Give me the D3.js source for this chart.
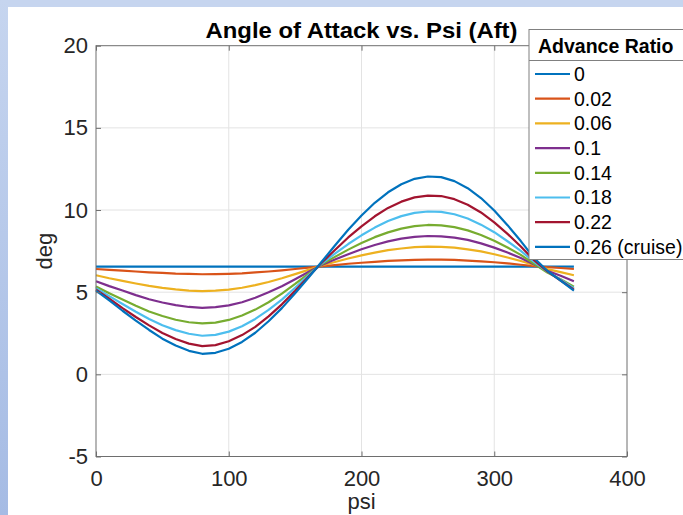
<!DOCTYPE html>
<html>
<head>
<meta charset="utf-8">
<script src="https://cdn.jsdelivr.net/npm/d3@7.9.0/dist/d3.min.js"></script>
<style>
  body { margin: 0; background: #fff; }
  svg { display: block; font-family: "Liberation Sans", Arial, sans-serif; }
</style>
</head>
<body>
<svg width="683" height="515"></svg>
<script>
// rotor azimuth (deg) and angle of attack (deg) for each advance ratio
const psi = [0, 10, 20, 30, 40, 50, 60, 70, 80, 90, 100, 110, 120, 130, 140, 150, 160, 170, 180,
  190, 200, 210, 220, 230, 240, 250, 260, 270, 280, 290, 300, 310, 320, 330, 340, 350, 360];

const mu000 = [6.55, 6.55, 6.55, 6.55, 6.55, 6.55, 6.55, 6.55, 6.55, 6.55, 6.55, 6.55, 6.55, 6.55, 6.55, 6.55, 6.55, 6.55, 6.55,
  6.55, 6.55, 6.55, 6.55, 6.55, 6.55, 6.55, 6.55, 6.55, 6.55, 6.55, 6.55, 6.55, 6.55, 6.55, 6.55, 6.55, 6.55];
const mu002 = [6.41, 6.36, 6.31, 6.26, 6.21, 6.17, 6.13, 6.11, 6.09, 6.10, 6.12, 6.15, 6.20, 6.26, 6.33, 6.41, 6.49, 6.57, 6.65,
  6.73, 6.79, 6.85, 6.90, 6.94, 6.97, 6.98, 6.98, 6.96, 6.92, 6.88, 6.82, 6.75, 6.67, 6.59, 6.52, 6.47, 6.41];
const mu006 = [6.03, 5.85, 5.69, 5.53, 5.38, 5.26, 5.17, 5.10, 5.07, 5.09, 5.16, 5.27, 5.43, 5.62, 5.85, 6.10, 6.36, 6.62, 6.84,
  7.05, 7.24, 7.41, 7.56, 7.66, 7.74, 7.77, 7.76, 7.71, 7.61, 7.48, 7.31, 7.11, 6.90, 6.65, 6.40, 6.22, 6.03];
const mu010 = [5.67, 5.37, 5.10, 4.82, 4.57, 4.37, 4.21, 4.10, 4.05, 4.09, 4.20, 4.39, 4.66, 4.99, 5.36, 5.79, 6.23, 6.65, 6.99,
  7.31, 7.61, 7.87, 8.09, 8.26, 8.37, 8.42, 8.40, 8.32, 8.18, 7.97, 7.71, 7.41, 7.08, 6.69, 6.30, 6.00, 5.67];
const mu014 = [5.34, 4.93, 4.55, 4.17, 3.82, 3.55, 3.32, 3.17, 3.10, 3.15, 3.31, 3.58, 3.94, 4.39, 4.91, 5.50, 6.12, 6.69, 7.15,
  7.59, 7.99, 8.35, 8.64, 8.87, 9.02, 9.09, 9.07, 8.96, 8.76, 8.48, 8.13, 7.72, 7.27, 6.72, 6.20, 5.79, 5.34];
const mu018 = [5.25, 4.76, 4.28, 3.81, 3.37, 2.99, 2.69, 2.47, 2.35, 2.40, 2.60, 2.93, 3.37, 3.92, 4.55, 5.27, 6.02, 6.74, 7.34,
  7.93, 8.46, 8.93, 9.33, 9.63, 9.83, 9.91, 9.89, 9.74, 9.48, 9.11, 8.65, 8.10, 7.51, 6.85, 6.25, 5.76, 5.25];
const mu022 = [5.15, 4.60, 4.03, 3.49, 2.98, 2.52, 2.15, 1.87, 1.72, 1.78, 2.01, 2.39, 2.89, 3.53, 4.26, 5.08, 5.94, 6.79, 7.57,
  8.33, 9.01, 9.62, 10.13, 10.51, 10.77, 10.88, 10.85, 10.66, 10.32, 9.85, 9.25, 8.55, 7.78, 6.95, 6.27, 5.71, 5.15];
const mu026 = [5.10, 4.50, 3.87, 3.27, 2.70, 2.17, 1.75, 1.43, 1.25, 1.31, 1.56, 1.97, 2.53, 3.23, 4.03, 4.93, 5.88, 6.85, 7.84,
  8.80, 9.67, 10.44, 11.08, 11.57, 11.90, 12.04, 12.00, 11.76, 11.33, 10.73, 9.97, 9.08, 8.11, 7.08, 6.30, 5.70, 5.10];

const seriesLabels = ['0', '0.02', '0.06', '0.1', '0.14', '0.18', '0.22', '0.26 (cruise)'];
const seriesValues = [mu000, mu002, mu006, mu010, mu014, mu018, mu022, mu026];
const seriesColors = ['#0072BD', '#D95319', '#EDB120', '#7E2F8E', '#77AC30', '#4DBEEE', '#A2142F', '#0072BD'];

const xTicks = [0, 100, 200, 300, 400];
const yTicks = [-5, 0, 5, 10, 15, 20];

const svg = d3.select('svg');
const font = '"Liberation Sans", Arial, sans-serif';

// slide-ish frame around the figure
const defs = svg.append('defs');
const grad = defs.append('linearGradient')
  .attr('id', 'side')
  .attr('x1', 0).attr('y1', 0).attr('x2', 0).attr('y2', 1);
grad.append('stop').attr('offset', '0%').attr('stop-color', '#c6d5ef');
grad.append('stop').attr('offset', '100%').attr('stop-color', '#a5bbe4');

svg.append('rect').attr('x', 0).attr('y', 0).attr('width', 683).attr('height', 7).attr('fill', '#c6d5ef');
svg.append('rect').attr('x', 0).attr('y', 0).attr('width', 8).attr('height', 515).attr('fill', 'url(#side)');

const plotL = 96, plotR = 627, plotT = 45.7, plotB = 456.5;

const x = d3.scaleLinear().domain([0, 400]).range([plotL, plotR]);
const y = d3.scaleLinear().domain([-5, 20]).range([plotB, plotT]);

// grid
const grid = svg.append('g').attr('stroke', '#e3e3e3').attr('stroke-width', 1);
xTicks.slice(1, -1).forEach(t => {
  grid.append('line').attr('x1', x(t)).attr('x2', x(t)).attr('y1', plotT).attr('y2', plotB);
});
yTicks.slice(1, -1).forEach(t => {
  grid.append('line').attr('x1', plotL).attr('x2', plotR).attr('y1', y(t)).attr('y2', y(t));
});

// curves
const line = d3.line()
  .x((d, i) => x(psi[i]))
  .y(d => y(d));

seriesValues.forEach((vals, i) => {
  svg.append('path')
    .attr('d', line(vals))
    .attr('fill', 'none')
    .attr('stroke', seriesColors[i])
    .attr('stroke-width', 2.2)
    .attr('stroke-linejoin', 'round');
});

// axes
const fmt = d => String(d);

function styleAxis(g) {
  g.select('.domain').remove();
  g.selectAll('.tick line').attr('stroke', '#6e6e6e');
  g.selectAll('.tick text')
    .attr('fill', '#262626')
    .attr('font-size', 22)
    .attr('font-family', font);
}

svg.append('g')
  .attr('transform', `translate(0,${plotB})`)
  .call(d3.axisBottom(x).tickValues(xTicks).tickFormat(fmt).tickSize(-5).tickPadding(14))
  .call(styleAxis);

svg.append('g')
  .attr('transform', `translate(${plotL},0)`)
  .call(d3.axisLeft(y).tickValues(yTicks).tickFormat(fmt).tickSize(-5).tickPadding(8))
  .call(styleAxis);

svg.append('g')
  .attr('transform', `translate(0,${plotT})`)
  .call(d3.axisTop(x).tickValues(xTicks).tickSize(-5).tickFormat(''))
  .call(styleAxis);

svg.append('g')
  .attr('transform', `translate(${plotR},0)`)
  .call(d3.axisRight(y).tickValues(yTicks).tickSize(-5).tickFormat(''))
  .call(styleAxis);

svg.append('rect')
  .attr('x', plotL).attr('y', plotT)
  .attr('width', plotR - plotL).attr('height', plotB - plotT)
  .attr('fill', 'none')
  .attr('stroke', '#6e6e6e')
  .attr('stroke-width', 1);

// titles
svg.append('text')
  .attr('x', (plotL + plotR) / 2).attr('y', 38)
  .attr('text-anchor', 'middle')
  .attr('font-size', 22).attr('font-weight', 'bold')
  .attr('textLength', 312).attr('lengthAdjust', 'spacingAndGlyphs')
  .attr('fill', '#000')
  .text('Angle of Attack vs. Psi (Aft)');

svg.append('text')
  .attr('transform', `translate(52,${(plotT + plotB) / 2}) rotate(-90)`)
  .attr('text-anchor', 'middle')
  .attr('font-size', 22)
  .attr('fill', '#262626')
  .text('deg');

svg.append('text')
  .attr('x', (plotL + plotR) / 2).attr('y', 509)
  .attr('text-anchor', 'middle')
  .attr('font-size', 22)
  .attr('fill', '#262626')
  .text('psi');

// legend
const lg = svg.append('g').attr('transform', 'translate(529,29.5)');
lg.append('rect')
  .attr('x', 0).attr('y', 0)
  .attr('width', 170).attr('height', 230)
  .attr('fill', '#fff')
  .attr('stroke', '#808080');
lg.append('text')
  .attr('x', 9).attr('y', 23)
  .attr('font-size', 19.5).attr('font-weight', 'bold')
  .attr('fill', '#000')
  .text('Advance Ratio');
lg.append('line')
  .attr('x1', 0).attr('x2', 170).attr('y1', 31).attr('y2', 31)
  .attr('stroke', '#808080');

seriesLabels.forEach((label, i) => {
  const cy = 44.5 + i * 24.7;
  lg.append('line')
    .attr('x1', 6).attr('x2', 41).attr('y1', cy).attr('y2', cy)
    .attr('stroke', seriesColors[i]).attr('stroke-width', 2.2);
  lg.append('text')
    .attr('x', 45).attr('y', cy).attr('dy', '0.35em')
    .attr('font-size', 19.5)
    .attr('fill', '#000')
    .text(label);
});
</script>
</body>
</html>
